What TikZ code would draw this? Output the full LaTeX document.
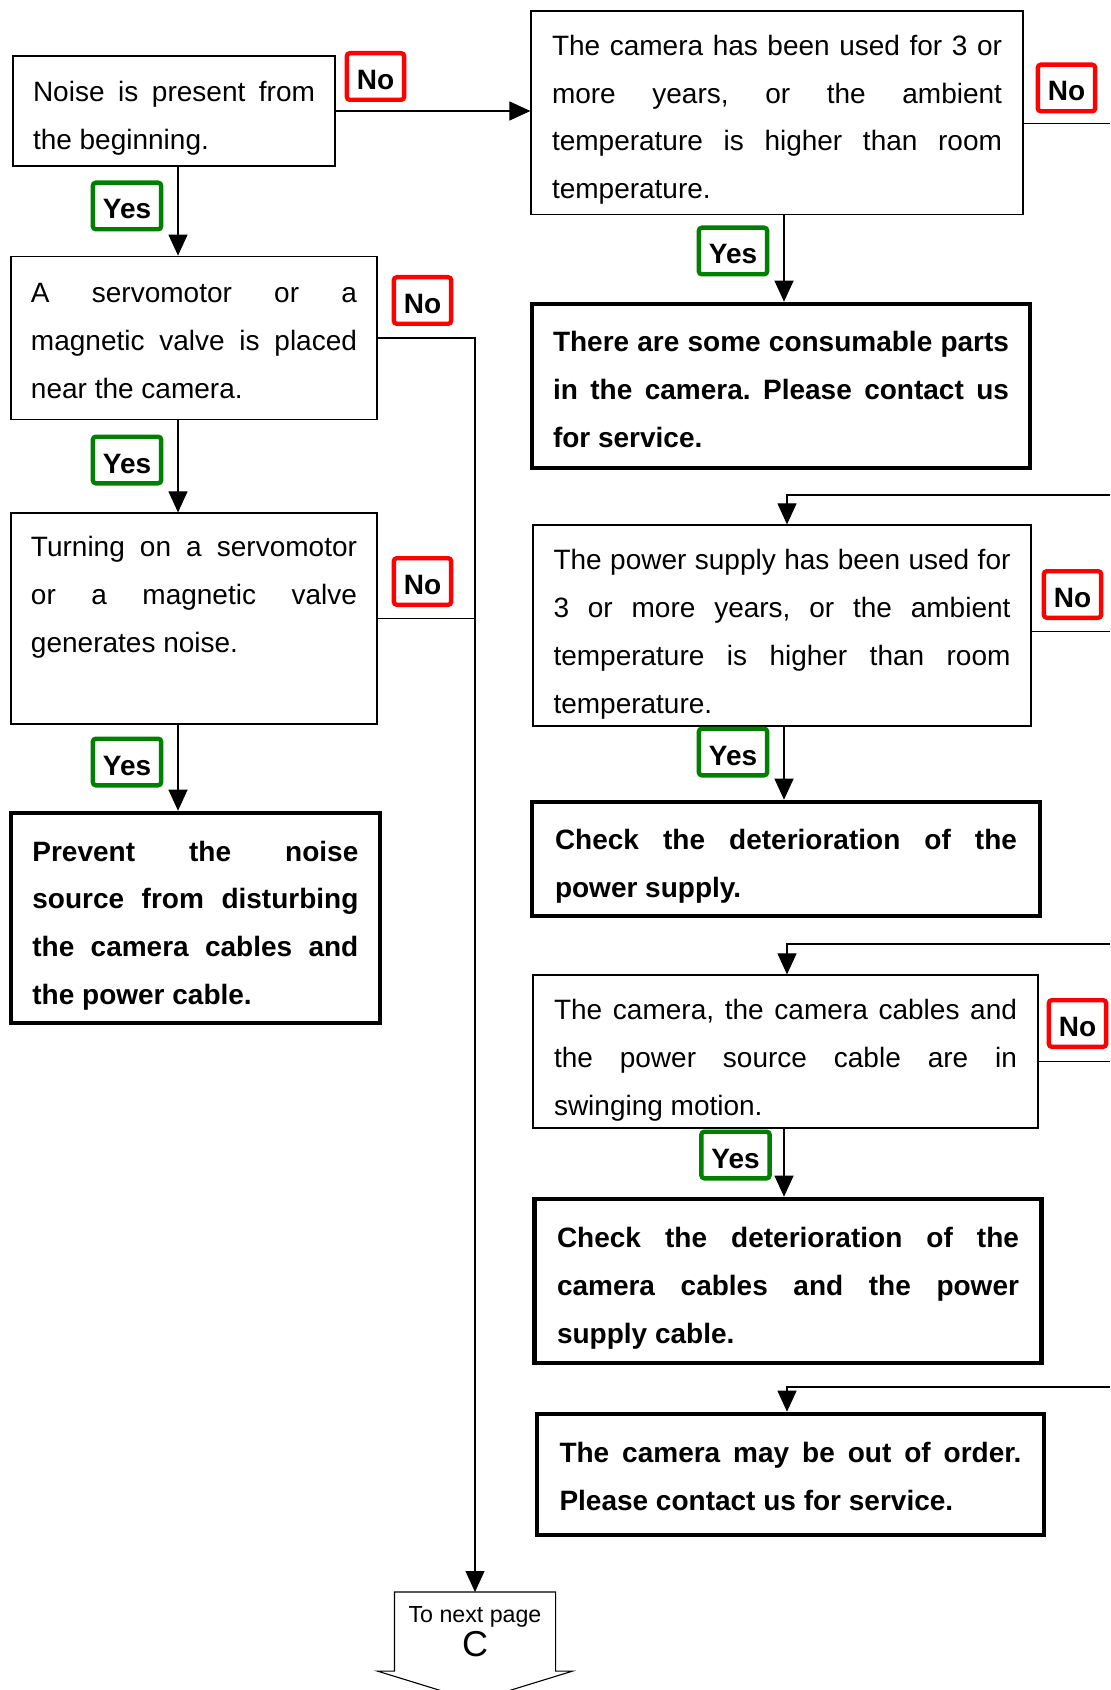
\documentclass[tikz,border=0pt]{standalone}
\usepackage{fontspec}
\setmainfont{Liberation Sans}
\usetikzlibrary{arrows.meta,positioning}
\hyphenpenalty=10000
\exhyphenpenalty=10000
\frenchspacing
\newcommand\topgap[1]{\rule{0pt}{#1}}

\begin{document}
\begin{tikzpicture}[x=0.5pt,y=-0.5pt,>={Triangle[length=10.5pt,width=9.5pt]},
   line width=0.55pt,
   box/.style={draw,line width=0.6pt,align=justify,inner xsep=0pt,inner ysep=0pt,
     font=\fontsize{14}{23.9}\selectfont},
   result/.style={box,line width=2.3pt,font=\bfseries\fontsize{14}{23.9}\selectfont},
   answer/.style={draw=#1,line width=2.2pt,rounded corners=1.5pt,fill=white,
     font=\bfseries\fontsize{14}{16}\selectfont,inner xsep=5pt,minimum height=23.3pt,
     text height=13pt,text depth=0pt},
   yes/.style={answer=green!50!black},
   no/.style={answer=red}]
  \useasboundingbox (0,0) rectangle (1110,1690);
  \coordinate (lx) at (178,0);
  \coordinate (rx) at (784,0);
  \coordinate (rin) at (787,0);
  \coordinate (edge) at (1110,0);
  % left column
  \node[box,text width=141pt,minimum width=161pt,minimum height=55pt] (noise) at (174,111)
    {\topgap{17.6pt}Noise is present from\linebreak the beginning.};
  \node[box,text width=163pt,minimum width=183pt,minimum height=81.75pt] (servo) at (194,338)
    {\topgap{12.6pt}A servomotor or a\linebreak magnetic valve is placed\linebreak near the camera.};
  \node[box,text width=163pt,minimum width=183pt,minimum height=105.5pt] (turnon) at (194,618.5)
    {Turning on a servomotor\linebreak or a magnetic valve\linebreak generates noise.\par\mbox{}};
  \node[result,text width=163pt,minimum width=184.5pt,minimum height=105pt] (prevent) at (195.4,918)
    {\topgap{17.6pt}Prevent the noise\linebreak source from disturbing\linebreak the camera cables and\linebreak the power cable.};
  \node[align=center,font=\fontsize{11.6}{17}\selectfont,minimum width=80pt,minimum height=39pt,
    inner sep=0pt,anchor=north] (next) at (475,1592) {To next page\\{\fontsize{18}{18}\selectfont C}};
  % right column
  \node[box,text width=225pt,minimum width=246pt,minimum height=101.75pt] (years) at (777,112.75)
    {\topgap{17.2pt}The camera has been used for 3 or\linebreak more years, or the ambient\linebreak temperature is higher than room\linebreak temperature.};
  \node[result,text width=228pt,minimum width=249pt,minimum height=82pt] (parts) at (781,386)
    {\topgap{13.4pt}There are some consumable parts\linebreak in the camera. Please contact us\linebreak for service.};
  \node[box,text width=228.5pt,minimum width=249pt,minimum height=100.5pt] (supply) at (782,625.5)
    {\topgap{18.8pt}The power supply has been used for\linebreak 3 or more years, or the ambient\linebreak temperature is higher than room\linebreak temperature.};
  \node[result,text width=231pt,minimum width=254pt,minimum height=57pt] (checkps) at (786,859)
    {\topgap{17.6pt}Check the deterioration of the\linebreak power supply.};
  \node[box,text width=231.5pt,minimum width=252.5pt,minimum height=76.5pt] (swing) at (785.5,1051.5)
    {\topgap{18.8pt}The camera, the camera cables and\linebreak the power source cable are in\linebreak swinging motion.};
  \node[result,text width=231pt,minimum width=253.75pt,minimum height=82pt] (checkcab) at (788,1281)
    {\topgap{17.6pt}Check the deterioration of the\linebreak camera cables and the power\linebreak supply cable.};
  \node[result,text width=231pt,minimum width=253.5pt,minimum height=60.5pt] (order) at (790.5,1474.5)
    {\topgap{12.2pt}The camera may be out of order.\linebreak Please contact us for service.};
  \coordinate (inG) at (1110,495);
  \coordinate (inI) at (1110,944);
  \coordinate (inK) at (1110,1387);
  % off-page connector
  \draw (next.north west) -- (next.north east) -- (next.south east) -- ([xshift=8.5pt]next.south east)
    -- ([yshift=-15pt]next.south) -- ([xshift=-8.5pt]next.south west) -- (next.south west) -- cycle;
  % connectors
  \draw[->] (noise.east) -- (noise.east -| years.west);
  \draw[->] (noise.south -| lx) -- (servo.north -| lx);
  \draw[->] (servo.south -| lx) -- (turnon.north -| lx);
  \draw[->] (turnon.south -| lx) -- (prevent.north -| lx);
  \draw[->] (servo.east) -| (next.north);
  \draw (turnon.east) -- (turnon.east -| next.north);
  \draw ([yshift=-5.6pt]years.east) -- ([yshift=-5.6pt]years.east -| edge);
  \draw[->] (years.south -| rx) -- (parts.north -| rx);
  \draw[->] (inG) -| (supply.north -| rin);
  \draw ([yshift=-3pt]supply.east) -- ([yshift=-3pt]supply.east -| edge);
  \draw[->] (supply.south -| rx) -- (checkps.north -| rx);
  \draw[->] (inI) -| (swing.north -| rin);
  \draw ([yshift=-5pt]swing.east) -- ([yshift=-5pt]swing.east -| edge);
  \draw[->] (swing.south -| rx) -- (checkcab.north -| rx);
  \draw[->] (inK) -| (order.north -| rin);
  % answers
  \node[no] (noA) at (375.5,76.5) {No};
  \node[yes] (yesA) at (127,206) {Yes};
  \node[no] (noB) at (422.5,300.5) {No};
  \node[yes] (yesB) at (127,460) {Yes};
  \node[no] (noC) at (422.5,581.5) {No};
  \node[yes] (yesC) at (127,762) {Yes};
  \node[no] (noE) at (1066.5,88) {No};
  \node[yes] (yesE) at (733,251) {Yes};
  \node[no] (noG) at (1072.5,594.5) {No};
  \node[yes] (yesG) at (733,752) {Yes};
  \node[no] (noI) at (1077.5,1023.5) {No};
  \node[yes] (yesI) at (735.5,1155) {Yes};
\end{tikzpicture}
\end{document}
